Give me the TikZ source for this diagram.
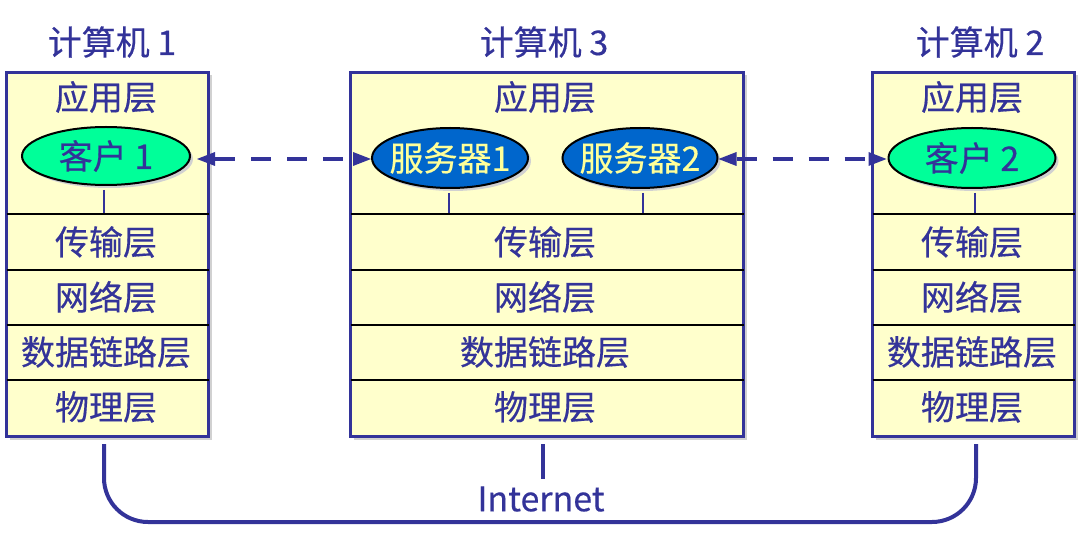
\documentclass[tikz,border=0pt]{standalone}
\usepackage{fontspec}
\setmainfont{Noto Sans CJK SC}[FakeBold=0.4]
\usetikzlibrary{shadows,arrows.meta,shapes.geometric}
\definecolor{bl}{RGB}{51,51,153}
\definecolor{ly}{RGB}{255,255,204}
\definecolor{gr}{RGB}{0,255,153}
\definecolor{sb}{RGB}{0,102,204}
\definecolor{yt}{RGB}{255,255,153}
\begin{document}
\begin{tikzpicture}[x=1pt,y=-1pt,
  stackbox/.style={draw=bl, line width=3pt, fill=ly, inner sep=0pt, anchor=north west,
    drop shadow={shadow xshift=3pt,shadow yshift=-3pt,fill=black!18,opacity=1}},
  divline/.style={draw=black, line width=1.2pt, shorten <=1.5pt, shorten >=1.5pt},
  lay/.style={text=bl, font=\fontsize{34}{36}\selectfont, inner sep=0pt},
  ttl/.style={text=bl, font=\fontsize{34}{36}\selectfont, inner sep=0pt},
  ell/.style={ellipse, draw=black, line width=2pt, inner ysep=0pt, inner xsep=-20pt,
    font=\fontsize{34}{36}\selectfont,
    drop shadow={shadow xshift=3pt,shadow yshift=-3pt,fill=black!18,opacity=1}},
  stubline/.style={draw=bl, line width=2.5pt},
  darr/.style={draw=bl, line width=4.5pt, dash pattern=on 20pt off 16pt,
    {Triangle[length=18pt,width=14pt,line width=0pt]}-{Triangle[length=18pt,width=14pt,line width=0pt]}},
  netline/.style={draw=bl, line width=4pt}
]
\useasboundingbox (0,0) rectangle (1092,553);

% titles
\node[ttl] (t1) at (112,42) {计算机 1};
\node[ttl] (t3) at (544,42) {计算机 3};
\node[ttl] (t2) at (980,42) {计算机 2};

% boxes
\node[stackbox, minimum width=202pt, minimum height=364pt] (c1) at (5,71) {};
\node[stackbox, minimum width=393pt, minimum height=364pt] (c3) at (349,71) {};
\node[stackbox, minimum width=202pt, minimum height=364pt] (c2) at (871,71) {};

% dividers
\foreach \b in {c1,c3,c2}{
  \foreach \yy in {214,270,325,380}{
    \draw[divline] (\b.west |- 0,\yy) -- (\b.east |- 0,\yy);
  }
}

% layer labels
\foreach \b/\cx in {c1/106,c3/545,c2/972}{
  \node[lay] (\b a) at (\cx,97) {应用层};
  \node[lay] (\b t) at (\cx,242) {传输层};
  \node[lay] (\b n) at (\cx,297) {网络层};
  \node[lay] (\b d) at (\cx,352) {数据链路层};
  \node[lay] (\b p) at (\cx,407) {物理层};
}

% ellipses
\node[ell, fill=gr, text=bl, minimum width=168pt, minimum height=58pt] (k1) at (106,156) {客户 1};
\node[ell, fill=sb, text=yt, minimum width=156pt, minimum height=60pt] (s1) at (450,158) {服务器1};
\node[ell, fill=sb, text=yt, minimum width=155pt, minimum height=60pt] (s2) at (640,158) {服务器2};
\node[ell, fill=gr, text=bl, minimum width=167pt, minimum height=60pt] (k2) at (972,158) {客户 2};

% stubs
\coordinate (k1d) at (104,213);
\coordinate (s1d) at (449,213);
\coordinate (s2d) at (643,213);
\coordinate (k2d) at (975,213);
\draw[stubline, shorten <=4pt] (k1.south -| k1d) -- (k1d);
\draw[stubline, shorten <=4pt] (s1.south -| s1d) -- (s1d);
\draw[stubline, shorten <=4pt] (s2.south -| s2d) -- (s2d);
\draw[stubline, shorten <=4pt] (k2.south -| k2d) -- (k2d);

% dashed arrows
\draw[darr, shorten <=6pt] (k1.east |- 0,159) -- (s1.west |- 0,159);
\draw[darr, shorten >=1pt] (s2.east |- 0,159) -- (k2.west |- 0,159);

% internet
\node[text=bl, font=\fontsize{34}{36}\selectfont, inner sep=0pt] (inet) at (541,499) {Internet};
\draw[netline] ([xshift=-4pt,yshift=-6pt]c3.south) -- ([xshift=-4pt]c3.south |- 0,479);
\coordinate (bl1) at (104,522);
\coordinate (br1) at (976,522);
\draw[netline, rounded corners=44pt] ([yshift=-6pt]c1.south -| bl1) -- (bl1) -- (br1) -- ([yshift=-6pt]c2.south -| br1);
\end{tikzpicture}
\end{document}
